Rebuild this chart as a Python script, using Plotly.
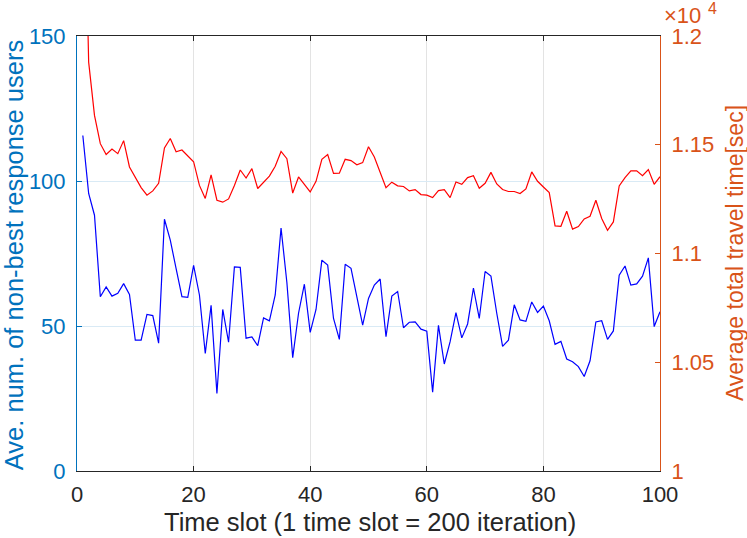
import plotly.graph_objects as go

time_slot = list(range(1, 101))

non_best_users = [
    115.7, 95.7, 88.2, 60.1, 63.5, 60.3, 61.3, 64.6, 60.9, 45.1,
    45.1, 54.0, 53.6, 44.1, 86.8, 79.6, 69.8, 60.1, 59.9, 70.9,
    60.7, 40.5, 57.1, 26.7, 55.7, 44.4, 70.4, 70.2, 45.8, 46.2,
    43.2, 52.8, 51.8, 60.7, 83.8, 65.0, 39.1, 54.4, 64.4, 47.8,
    55.7, 72.7, 71.0, 52.6, 45.4, 71.3, 69.9, 60.1, 50.3, 59.5,
    64.1, 66.2, 46.3, 60.3, 61.9, 49.4, 51.3, 51.4, 48.9, 48.2,
    27.2, 50.2, 36.9, 44.6, 54.6, 45.9, 50.7, 63.1, 52.6, 68.8,
    67.2, 54.4, 43.0, 45.1, 57.3, 52.1, 51.6, 58.3, 54.7, 56.9,
    51.8, 43.7, 44.7, 38.6, 37.7, 36.0, 32.6, 38.0, 51.4, 51.8,
    45.4, 48.3, 67.5, 70.7, 64.1, 64.5, 67.2, 73.5, 49.8, 54.9,
]

travel_time = [
    13080, 11880, 11635, 11505, 11455, 11480, 11459, 11519, 11398, 11347,
    11303, 11268, 11288, 11323, 11485, 11529, 11468, 11476, 11448, 11422,
    11313, 11253, 11361, 11245, 11236, 11251, 11313, 11384, 11347, 11390,
    11299, 11329, 11356, 11401, 11469, 11436, 11278, 11352, 11317, 11283,
    11332, 11433, 11455, 11368, 11369, 11433, 11427, 11408, 11418, 11491,
    11444, 11369, 11303, 11328, 11311, 11308, 11288, 11294, 11271, 11268,
    11257, 11289, 11294, 11257, 11329, 11318, 11349, 11358, 11300, 11323,
    11373, 11320, 11294, 11285, 11285, 11276, 11297, 11375, 11332, 11306,
    11280, 11127, 11125, 11194, 11112, 11124, 11159, 11171, 11245, 11161,
    11107, 11145, 11311, 11349, 11380, 11380, 11358, 11386, 11318, 11353,
]

x_ticks = [0, 20, 40, 60, 80, 100]
y_left_ticks = [0, 50, 100, 150]
y_right_ticks = [10000, 10500, 11000, 11500, 12000]
y_right_labels = ["1", "1.05", "1.1", "1.15", "1.2"]

BLUE_AX = "#0072BD"
ORANGE_AX = "#D95319"
DARK = "#262626"
FONT = "Liberation Sans"

fig = go.Figure()
fig.add_trace(go.Scatter(x=time_slot, y=non_best_users, mode="lines",
                         line=dict(color="#0000FF", width=1.2), yaxis="y"))
fig.add_trace(go.Scatter(x=time_slot, y=travel_time, mode="lines",
                         line=dict(color="#FF0000", width=1.2), yaxis="y2"))

fig.update_layout(
    width=747, height=538,
    margin=dict(l=77, r=87, t=36, b=67, autoexpand=False),
    paper_bgcolor="white", plot_bgcolor="white",
    showlegend=False,
    font=dict(family=FONT, size=22, color=DARK),
    xaxis=dict(
        range=[0, 100], tickvals=x_ticks, ticks="inside", ticklen=5,
        tickcolor=DARK, showline=True, linecolor=DARK, linewidth=1,
        mirror="ticks", showgrid=True, gridcolor="#E3E3E3", gridwidth=1,
        zeroline=False, tickfont=dict(size=22, color=DARK),
        ticklabelstandoff=4, automargin=False,
    ),
    yaxis=dict(
        range=[0, 150], tickvals=y_left_ticks, ticks="inside", ticklen=5,
        tickcolor=BLUE_AX, showline=True, linecolor=BLUE_AX, linewidth=1,
        showgrid=True, gridcolor="#D9EAF5", gridwidth=1, zeroline=False,
        tickfont=dict(size=22, color=BLUE_AX), ticklabelstandoff=6,
        automargin=False,
    ),
    yaxis2=dict(
        range=[10000, 12000], tickvals=y_right_ticks, ticktext=y_right_labels,
        overlaying="y", side="right", ticks="inside", ticklen=5,
        tickcolor=ORANGE_AX, showline=True, linecolor=ORANGE_AX, linewidth=1,
        showgrid=False, zeroline=False,
        tickfont=dict(size=22, color=ORANGE_AX), ticklabelstandoff=6,
        automargin=False,
    ),
    annotations=[
        dict(text="Time slot (1 time slot = 200 iteration)", xref="paper", yref="paper",
             x=0.503, y=-0.117, xanchor="center", yanchor="middle", showarrow=False,
             font=dict(family=FONT, size=25.5, color=DARK)),
        dict(text="Ave. num. of non-best response users", xref="paper", yref="paper",
             x=-0.109, y=0.497, xanchor="center", yanchor="middle", textangle=-90,
             showarrow=False, font=dict(family=FONT, size=25.5, color=BLUE_AX)),
        dict(text="Average total travel time[sec]", xref="paper", yref="paper",
             x=1.128, y=0.5, xanchor="center", yanchor="middle", textangle=-90,
             showarrow=False, font=dict(family=FONT, size=23, color=ORANGE_AX)),
        dict(text="×10", xref="paper", yref="paper",
             x=1.006, y=1.047, xanchor="left", yanchor="middle", showarrow=False,
             borderpad=0, font=dict(family=FONT, size=22, color=ORANGE_AX)),
        dict(text="4", xref="paper", yref="paper",
             x=1.080, y=1.064, xanchor="left", yanchor="middle", showarrow=False,
             borderpad=0, font=dict(family=FONT, size=16, color=ORANGE_AX)),
    ],
)

fig.write_html(
    "out.html",
    config={"displayModeBar": False},
    post_script="document.body.style.margin='0';document.body.style.padding='0';",
)
